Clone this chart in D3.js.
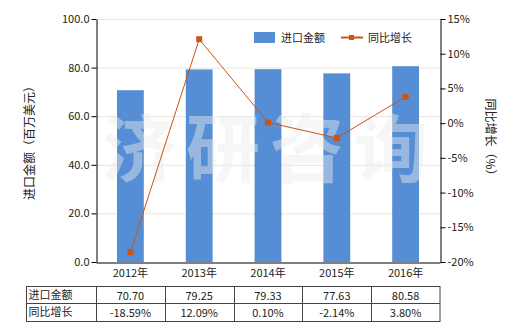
<!DOCTYPE html>
<html><head><meta charset="utf-8">
<script src="https://cdn.jsdelivr.net/npm/d3@7"></script>
<style>body{margin:0;background:#fff}svg{display:block}text{font-family:"Noto Sans CJK SC","Noto Sans",sans-serif}</style>
</head><body><svg id="c" width="520" height="330"></svg>
<script>
const categories = ["2012年","2013年","2014年","2015年","2016年"];
const importValues = [70.70, 79.25, 79.33, 77.63, 80.58];
const growthValues = [-18.59, 12.09, 0.10, -2.14, 3.80];
const importLabels = ["70.70","79.25","79.33","77.63","80.58"];
const growthLabels = ["-18.59%","12.09%","0.10%","-2.14%","3.80%"];
const leftTicks = [0,20,40,60,80,100];
const rightTicks = [-20,-15,-10,-5,0,5,10,15];
const seriesNames = ["进口金额","同比增长"];

const svg = d3.select("#c");
const L=96,R=440,T=19,B=262;
const x = d3.scaleBand().domain(categories).range([L,R]).paddingInner(0.61).paddingOuter(0.305);
const xb = d3.scaleBand().domain(categories).range([L,R]);
const yL = d3.scaleLinear().domain([0,100]).range([B,T]);
const yR = d3.scaleLinear().domain([-20,15]).range([B,T]);
const barColor="#558ED5", lineColor="#CC5511";

// grid
svg.append("g").selectAll("line").data(leftTicks.slice(1)).join("line")
  .attr("x1",L).attr("x2",R).attr("y1",d=>yL(d)+0.5).attr("y2",d=>yL(d)+0.5)
  .attr("stroke","#e9e7da").attr("stroke-width",1);

// bars
svg.append("g").selectAll("rect").data(importValues).join("rect")
  .attr("x",(d,i)=>x(categories[i])).attr("width",x.bandwidth())
  .attr("y",d=>yL(d)).attr("height",d=>B-yL(d)).attr("fill",barColor);

// watermark
svg.append("text").attr("x",270).attr("y",176).attr("text-anchor","middle")
  .attr("font-size",74).attr("font-weight","bold").attr("fill","#ececec").attr("fill-opacity",0.45)
  .attr("letter-spacing",10).text("济研咨询");

// line
const line = d3.line().x((d,i)=>xb(categories[i])+xb.bandwidth()/2).y(d=>yR(d));
svg.append("path").datum(growthValues).attr("d",line).attr("fill","none").attr("stroke",lineColor).attr("stroke-width",1);
svg.append("g").selectAll("rect").data(growthValues).join("rect")
  .attr("x",(d,i)=>xb(categories[i])+xb.bandwidth()/2-3).attr("y",d=>yR(d)-3)
  .attr("width",6).attr("height",6).attr("fill",lineColor);

// axes
const axL = svg.append("g").attr("transform",`translate(${L+0.5},0)`)
  .call(d3.axisLeft(yL).tickValues(leftTicks).tickFormat(d3.format(".1f")).tickSize(5).tickSizeOuter(0));
const axR = svg.append("g").attr("transform",`translate(${R+0.5},0)`)
  .call(d3.axisRight(yR).tickValues(rightTicks).tickFormat(d=>d+"%").tickSize(5).tickSizeOuter(0));
const axB = svg.append("g").attr("transform",`translate(0,${B+0.5})`)
  .call(d3.axisBottom(xb).tickSize(0).tickSizeOuter(0));
[axL,axR,axB].forEach(a=>{a.selectAll("path,line").attr("stroke","#000");a.selectAll("text").attr("font-size",11).attr("fill","#222").attr("font-family",'"Noto Sans CJK SC",sans-serif');});
axL.selectAll("text").attr("x",-7);
axR.selectAll("text").attr("x",7);
axB.selectAll("text").attr("dy","1.05em");

// axis titles
svg.append("text").attr("transform","translate(34,140) rotate(-90)").attr("text-anchor","middle")
  .attr("font-size",12).attr("fill","#222").text("进口金额（百万美元）");
svg.append("text").attr("transform","translate(486,140) rotate(90)").attr("text-anchor","middle")
  .attr("font-size",12).attr("fill","#222").text("同比增长（%）");

// legend
svg.append("rect").attr("x",254).attr("y",32).attr("width",21).attr("height",11).attr("fill",barColor);
svg.append("text").attr("x",281).attr("y",42).attr("font-size",11).attr("fill","#222").text(seriesNames[0]);
svg.append("line").attr("x1",341).attr("x2",363).attr("y1",37.5).attr("y2",37.5).attr("stroke",lineColor).attr("stroke-width",2);
svg.append("rect").attr("x",349).attr("y",35).attr("width",5).attr("height",5).attr("fill",lineColor);
svg.append("text").attr("x",368).attr("y",42).attr("font-size",11).attr("fill","#222").text(seriesNames[1]);

// table
const tL=26.5, rows=[286.5,303.5,321.5];
const tg = svg.append("g");
tg.append("rect").attr("x",tL).attr("y",rows[0]).attr("width",R-tL).attr("height",rows[2]-rows[0]).attr("fill","none").attr("stroke","#444");
tg.append("line").attr("x1",tL).attr("x2",R).attr("y1",rows[1]).attr("y2",rows[1]).attr("stroke","#444");
[L,...categories.slice(1).map(c=>xb(c))].forEach(v=>tg.append("line").attr("x1",Math.round(v)+0.5).attr("x2",Math.round(v)+0.5).attr("y1",rows[0]).attr("y2",rows[2]).attr("stroke","#444"));
[[seriesNames[0],importLabels],[seriesNames[1],growthLabels]].forEach(([nm,labs],r)=>{
  tg.append("text").attr("x",tL+2).attr("y",rows[r]+12.5).attr("font-size",11).attr("fill","#222").text(nm);
  labs.forEach((t,i)=>tg.append("text").attr("x",xb(categories[i])+xb.bandwidth()/2).attr("y",rows[r]+13)
    .attr("text-anchor","middle").attr("font-size",11).attr("fill","#222").text(t));
});
</script></body></html>
